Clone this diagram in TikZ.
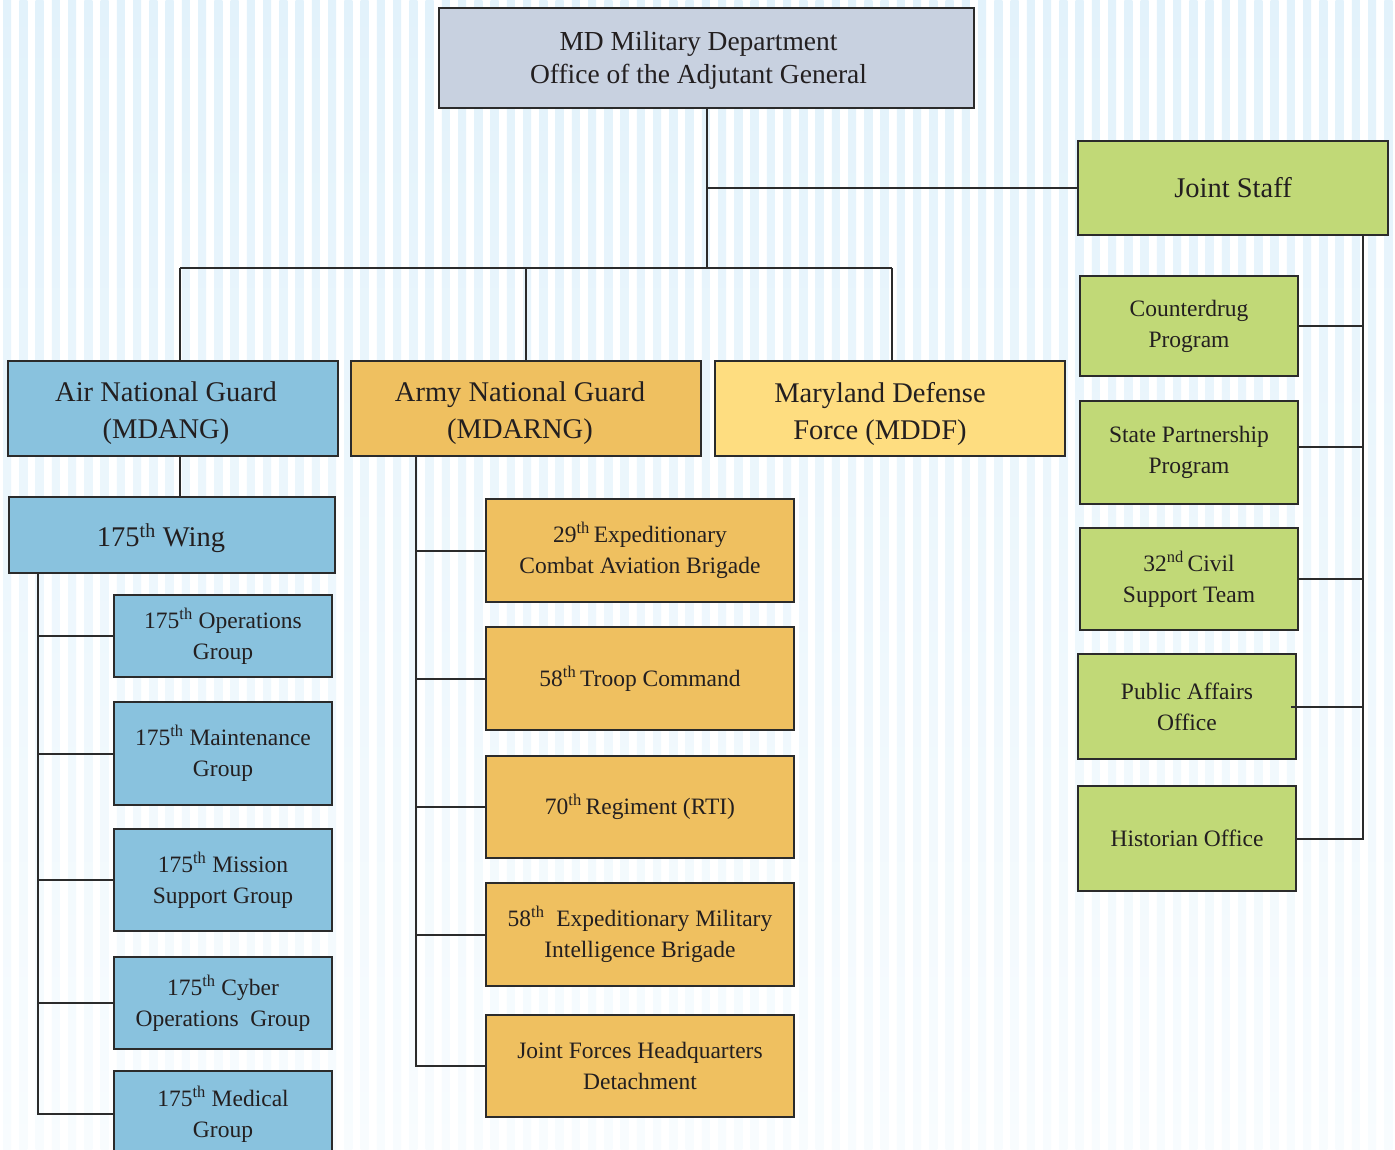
\documentclass[tikz,border=0pt]{standalone}
\usepackage{fontspec}
\setmainfont{Liberation Serif}
\definecolor{stT}{HTML}{E2F2FB}
\definecolor{stM}{HTML}{E8F5FC}
\definecolor{stB}{HTML}{F8FCFE}
\definecolor{cTop}{HTML}{C8D1E0}
\definecolor{cGreen}{HTML}{C1D977}
\definecolor{cBlue}{HTML}{89C2DE}
\definecolor{cOrange}{HTML}{EFC060}
\definecolor{cYellow}{HTML}{FEDD80}
\definecolor{cLine}{HTML}{2B2B2B}
\definecolor{cText}{HTML}{231F20}
\tikzset{
  bx/.style={draw=cLine, line width=2.2pt, inner sep=0pt, align=center, text=cText},
  lbl/.style={inner sep=0pt, align=center, text=cText},
  big/.style={font=\fontsize{28.5}{37}\selectfont},
  mid/.style={font=\fontsize{27.5}{33}\selectfont},
  sml/.style={font=\fontsize{23.5}{31}\selectfont},
  ln/.style={draw=cLine, line width=2pt},
}
\begin{document}
\begin{tikzpicture}[x=1pt,y=-1pt]
\path[use as bounding box] (0,0) rectangle (1395,1149);
\fill[white] (0,0) rectangle (1395,1149);
\foreach \i in {0,...,85}{
  \shade[top color=stT, middle color=stM, bottom color=stB] ({3+16.25*\i},0) rectangle ({11+16.25*\i},1149);
}
% top levels
\node[bx, fill=cTop, minimum width=535pt, minimum height=100pt] (top) at (706.5,58) {};
\node[lbl, mid] (topT) at ([xshift=-8pt,yshift=-2pt]top.center) {MD Military Department\\Office of the Adjutant General};
\node[bx, big, fill=cGreen, minimum width=310pt, minimum height=94pt] (js) at (1233,188) {Joint Staff};
\node[bx, fill=cBlue, minimum width=330pt, minimum height=95pt] (ang) at (173,408.5) {};
\node[lbl, big] (angT) at ([xshift=-7pt,yshift=-5pt]ang.center) {Air National Guard\\(MDANG)};
\node[bx, fill=cOrange, minimum width=350pt, minimum height=95pt] (arng) at (526,408.5) {};
\node[lbl, big] (arngT) at ([xshift=-6pt,yshift=-5pt]arng.center) {Army National Guard\\(MDARNG)};
\node[bx, fill=cYellow, minimum width=350pt, minimum height=95pt] (mddf) at (890,408.5) {};
\node[lbl, big] (mddfT) at ([xshift=-10pt,yshift=-5pt]mddf.center) {Maryland Defense\\Force (MDDF)};
% air
\node[bx, fill=cBlue, minimum width=326pt, minimum height=76pt] (wing) at (172,535) {};
\node[lbl, big] (wingT) at ([xshift=-11pt,yshift=-3pt]wing.center) {175\textsuperscript{th} Wing};
\node[bx, sml, fill=cBlue, minimum width=218pt, minimum height=82pt] (ops) at (223,636) {175\textsuperscript{th} Operations\\Group};
\node[bx, sml, fill=cBlue, minimum width=218pt, minimum height=103pt] (mnt) at (223,753.5) {175\textsuperscript{th} Maintenance\\Group};
\node[bx, sml, fill=cBlue, minimum width=218pt, minimum height=102pt] (msg) at (223,880) {175\textsuperscript{th} Mission\\Support Group};
\node[bx, sml, fill=cBlue, minimum width=218pt, minimum height=92pt] (cyb) at (223,1003) {175\textsuperscript{th} Cyber\\Operations~ Group};
\node[bx, sml, fill=cBlue, minimum width=218pt, minimum height=86pt] (med) at (223,1114) {175\textsuperscript{th} Medical\\Group};
% army
\node[bx, sml, fill=cOrange, minimum width=308pt, minimum height=103pt] (cab) at (640,550.5) {29\textsuperscript{th}\,Expeditionary\\Combat Aviation Brigade};
\node[bx, sml, fill=cOrange, minimum width=308pt, minimum height=103pt] (troop) at (640,678.5) {58\textsuperscript{th}\,Troop Command};
\node[bx, sml, fill=cOrange, minimum width=308pt, minimum height=102pt] (rti) at (640,807) {70\textsuperscript{th}\,Regiment (RTI)};
\node[bx, sml, fill=cOrange, minimum width=308pt, minimum height=103pt] (mi) at (640,934.5) {58\textsuperscript{th}~ Expeditionary Military\\Intelligence Brigade};
\node[bx, sml, fill=cOrange, minimum width=308pt, minimum height=102pt] (jfhq) at (640,1066) {Joint Forces Headquarters\\Detachment};
% joint staff
\node[bx, sml, fill=cGreen, minimum width=218pt, minimum height=100pt] (cd) at (1189,326) {Counterdrug\\Program};
\node[bx, sml, fill=cGreen, minimum width=218pt, minimum height=103pt] (spp) at (1189,452.5) {State Partnership\\Program};
\node[bx, sml, fill=cGreen, minimum width=218pt, minimum height=102pt] (cst) at (1189,579) {32\textsuperscript{nd}\,Civil\\Support Team};
\node[bx, sml, fill=cGreen, minimum width=218pt, minimum height=105pt] (pao) at (1187,706.5) {Public Affairs\\Office};
\node[bx, sml, fill=cGreen, minimum width=218pt, minimum height=105pt] (hist) at (1187,838.5) {Historian Office};
% connectors
\coordinate (busL) at (180,268);
\coordinate (busR) at (892,268);
\coordinate (ws) at (38,0);
\coordinate (as) at (416,0);
\coordinate (jss) at (1363,0);
\coordinate (sppE) at ([yshift=5.5pt]spp.east);
\coordinate (paoE) at ([xshift=-6pt]pao.east);
\draw[ln] (top.south) -- (top.south |- busL);
\draw[ln] (top.south |- js.west) -- (js.west);
\draw[ln] (busL) -- (busR);
\draw[ln] (busL) -- (busL |- ang.north);
\draw[ln] (arng.north |- busL) -- (arng.north);
\draw[ln] (busR) -- (busR |- mddf.north);
\draw[ln] (busL |- ang.south) -- (busL |- wing.north);
\draw[ln] (ws |- wing.south) |- (med.west);
\foreach \n in {ops,mnt,msg,cyb}{ \draw[ln] (ws |- \n.west) -- (\n.west); }
\draw[ln] (as |- arng.south) |- (jfhq.west);
\foreach \n in {cab,troop,rti,mi}{ \draw[ln] (as |- \n.west) -- (\n.west); }
\draw[ln] (jss |- js.south) |- (hist.east);
\foreach \n in {cd,cst}{ \draw[ln] (jss |- \n.east) -- (\n.east); }
\draw[ln] (sppE) -- (jss |- sppE);
\draw[ln] (paoE) -- (jss |- paoE);
\end{tikzpicture}
\end{document}
